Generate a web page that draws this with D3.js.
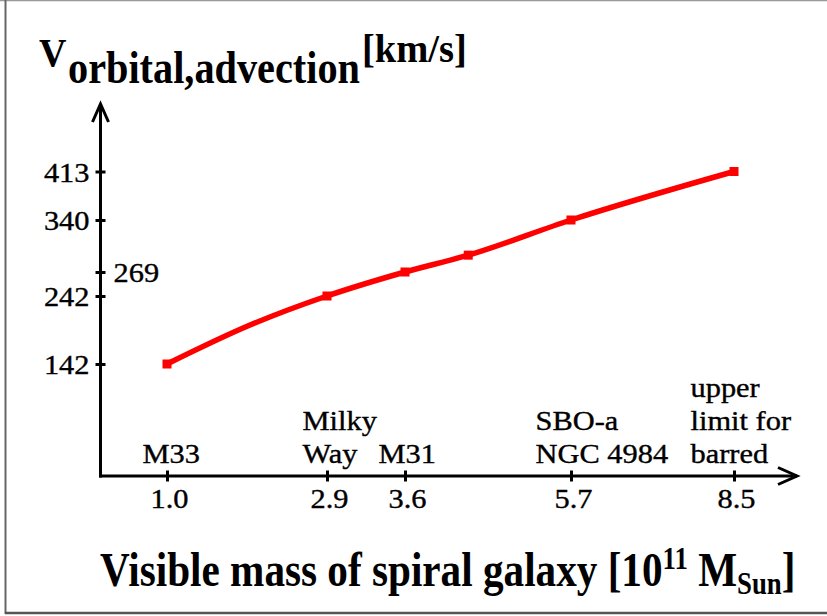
<!DOCTYPE html>
<html>
<head>
<meta charset="utf-8">
<script src="https://cdn.jsdelivr.net/npm/d3@7"></script>
<style>
  html, body { margin: 0; padding: 0; background: #fff; }
  svg { display: block; }
  text { font-family: "Liberation Serif", "Times New Roman", serif; fill: #000; }
  .lbl { stroke: #000; stroke-width: 0.35px; }
</style>
</head>
<body>
<script>
// ---- data ----
const xTicks = [1.0, 2.9, 3.6, 5.7, 8.5];
const xTickLabels = ["1.0", "2.9", "3.6", "5.7", "8.5"];
const galaxyLabels = [["M33"], ["Milky", "Way"], ["M31"], ["SBO-a", "NGC 4984"], ["upper", "limit for", "barred"]];
const yTicks = [142, 242, 269, 340, 413];
const yTickLabels = ["142", "242", "269", "340", "413"];
const massX = [1.0, 2.0, 2.9, 3.6, 4.4, 5.7, 8.5];
const velocityY = [142, 200, 242, 269, 292, 340, 413];
const marked = [true, false, true, true, true, true, true];

// ---- layout ----
const W = 827, H = 616;
const axisX = 100.5, axisY = 476;
const svg = d3.select("body").append("svg").attr("width", W).attr("height", H);
svg.append("rect").attr("width", W).attr("height", H).attr("fill", "#fff");

// frame
svg.append("line").attr("x1", 0).attr("x2", W).attr("y1", 0.5).attr("y2", 0.5).attr("stroke", "#999").attr("stroke-width", 1.5);
svg.append("line").attr("x1", 5.5).attr("x2", 5.5).attr("y1", 0).attr("y2", 614).attr("stroke", "#666").attr("stroke-width", 2);
svg.append("line").attr("x1", 5).attr("x2", W).attr("y1", 613).attr("y2", 613).attr("stroke", "#555").attr("stroke-width", 2.5);

// piecewise scales (schematic, non-uniform spacing as in the original)
const x = d3.scaleLinear().domain(xTicks).range([167, 327, 405, 571, 734]);
const y = d3.scaleLinear().domain(yTicks).range([364, 296, 272, 220, 171.5]);

// axes lines + arrows
const ax = svg.append("g").attr("stroke", "#000").attr("stroke-width", 3).attr("fill", "none");
ax.append("line").attr("x1", axisX).attr("x2", axisX).attr("y1", axisY + 1.5).attr("y2", 104);
ax.append("line").attr("x1", axisX - 1.5).attr("x2", 797).attr("y1", axisY).attr("y2", axisY);
ax.append("path").attr("d", `M${axisX - 8},${122} L${axisX},${104} L${axisX + 8},${122}`).attr("stroke-linejoin", "miter");
ax.append("path").attr("d", `M${778},${axisY - 8.5} L${797},${axisY} L${778},${axisY + 8.5}`).attr("stroke-linejoin", "miter");

// y axis ticks via d3 axis
const yAxis = d3.axisLeft(y).tickValues(yTicks).tickSizeInner(0).tickSizeOuter(0).tickFormat(() => "");
const gy = svg.append("g").attr("transform", `translate(${axisX},0)`).call(yAxis);
gy.select(".domain").remove();
gy.selectAll(".tick").append("line").attr("x1", -5).attr("x2", 5).attr("stroke", "#000").attr("stroke-width", 3);
gy.selectAll(".tick").append("text")
  .attr("class", "lbl")
  .attr("transform", (d, i) => yTickLabels[i] === "269" ? "translate(13,9.5) scale(1.17,1.06)" : "translate(-11,9.5) scale(1.17,1.06)")
  .attr("text-anchor", (d, i) => yTickLabels[i] === "269" ? "start" : "end")
  .attr("font-size", 26)
  .text((d, i) => yTickLabels[i]);

// x axis ticks via d3 axis
const xAxis = d3.axisBottom(x).tickValues(xTicks).tickSizeInner(0).tickSizeOuter(0).tickFormat(() => "");
const gx = svg.append("g").attr("transform", `translate(0,${axisY})`).call(xAxis);
gx.select(".domain").remove();
gx.selectAll(".tick").append("line").attr("y1", -5.5).attr("y2", 5.5).attr("stroke", "#000").attr("stroke-width", 3);
gx.selectAll(".tick").append("text")
  .attr("class", "lbl")
  .attr("transform", "translate(2,32) scale(1.17,1.06)")
  .attr("text-anchor", "middle")
  .attr("font-size", 26)
  .text((d, i) => xTickLabels[i]);

// galaxy labels (left-aligned blocks above the ticks)
const labelOffsets = [-25, -25, -27, -36, -44];
gx.selectAll(".tick").each(function (d, i) {
  const lines = galaxyLabels[i];
  const g = d3.select(this);
  lines.forEach((ln, j) => {
    const dy = -13 - (lines.length - 1 - j) * 33;
    g.append("text")
      .attr("class", "lbl")
      .attr("transform", `translate(${labelOffsets[i]},${dy}) scale(1.17,1.06)`)
      .attr("text-anchor", "start")
      .attr("font-size", 26)
      .text(ln);
  });
});

// curve
const pts = massX.map((m, i) => [x(m), y(velocityY[i])]);
svg.append("path")
  .attr("d", d3.line().curve(d3.curveMonotoneX)(pts))
  .attr("fill", "none").attr("stroke", "#ff0000").attr("stroke-width", 5.5);
svg.selectAll("rect.mk").data(pts.filter((p, i) => marked[i])).enter().append("rect")
  .attr("class", "mk")
  .attr("x", d => d[0] - 4.5).attr("y", d => d[1] - 4.5)
  .attr("width", 9).attr("height", 9).attr("fill", "#ff0000");

// y axis title (V, subscript, superscript)
svg.append("text").attr("transform", "translate(39,66) scale(1.0,1.08)")
  .attr("font-weight", "bold").attr("font-size", 38).text("V");
svg.append("text").attr("transform", "translate(68,83) scale(1.06,1.2)")
  .attr("font-weight", "bold").attr("font-size", 38).text("orbital,advection");
svg.append("text").attr("transform", "translate(362,62) scale(1.07,1.12)")
  .attr("font-weight", "bold").attr("font-size", 36).text("[km/s]");

// x axis title
const xt = svg.append("text").attr("transform", "translate(100,586) scale(1.03,1.2)")
  .attr("font-weight", "bold").attr("font-size", 40);
xt.append("tspan").text("Visible mass of spiral galaxy [10");
xt.append("tspan").attr("dy", -14).attr("font-size", 26).text("11");
xt.append("tspan").attr("dy", 14).text(" M");
xt.append("tspan").attr("dy", 7).attr("font-size", 26).text("Sun");
xt.append("tspan").attr("dy", -7).text("]");
</script>
</body>
</html>
